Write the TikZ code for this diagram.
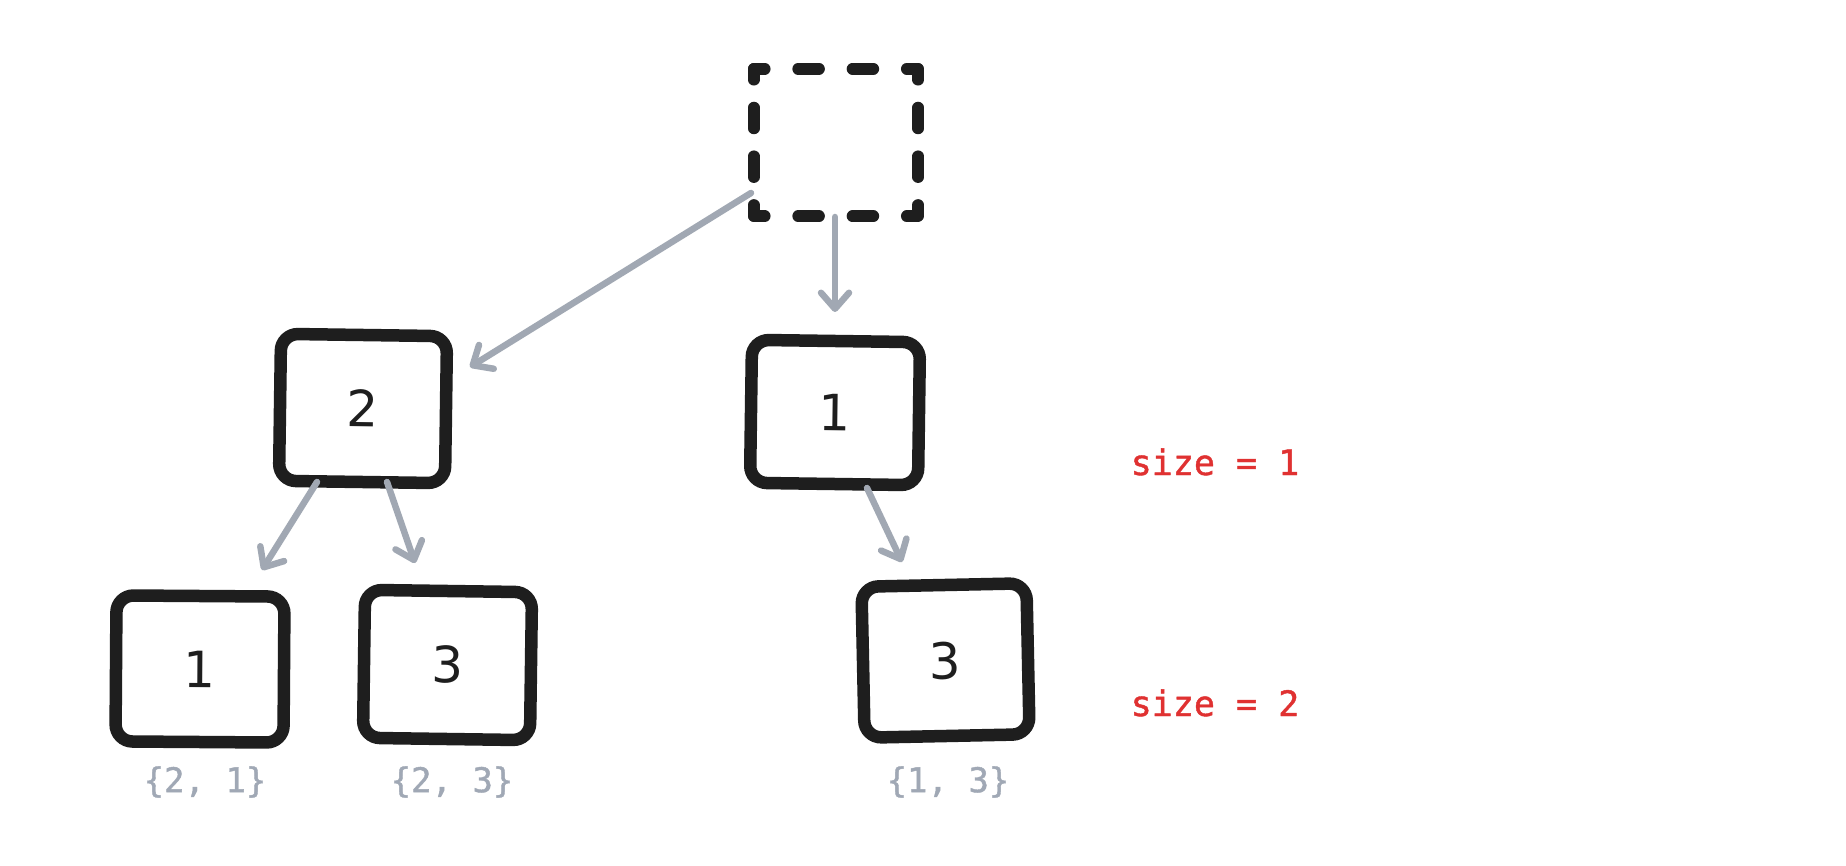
\documentclass[tikz,border=0pt]{standalone}
\usepackage{fontspec}
\usetikzlibrary{arrows.meta,calc}
\newfontfamily\numfont{DejaVu Sans}
\newfontfamily\codefont[FakeBold=1.2]{DejaVu Sans Mono}
\definecolor{inkblack}{HTML}{1E1E1E}
\definecolor{arrowgray}{HTML}{A1A8B3}
\definecolor{labelgray}{HTML}{A0A8B5}
\definecolor{sizered}{HTML}{E03131}
\tikzset{
  box/.style={draw=inkblack, line width=12.5pt, rounded corners=17pt,
    minimum width=166pt, minimum height=147pt, inner sep=0pt,
    font=\numfont\fontsize{50}{60}\selectfont, text=inkblack},
  ghost/.style={minimum width=164pt, minimum height=147pt, inner sep=0pt},
  dashside/.style={draw=inkblack, line width=11.5pt, line cap=round},
  arr/.style={draw=arrowgray, line width=6.5pt, line cap=round,
    -{Straight Barb[length=16pt, width=28pt, line width=6.5pt, round]}},
  setlabel/.style={font=\codefont\fontsize{34}{40}\selectfont, text=labelgray},
  sizelabel/.style={font=\codefont\fontsize{35}{42}\selectfont, text=sizered, anchor=base}
}
\begin{document}
\begin{tikzpicture}[x=1pt, y=-1pt]
\useasboundingbox[fill=white] (0,0) rectangle (1846,866);

% root (dashed, empty)
\node[ghost] (root) at (836,142.5) {};
\draw[dashside, dash pattern=on 11pt off 33.3pt on 21pt off 33.3pt on 21pt off 33.3pt on 11pt]
  (root.north west) -- (root.north east);
\draw[dashside, dash pattern=on 11pt off 33.3pt on 21pt off 33.3pt on 21pt off 33.3pt on 11pt]
  (root.south west) -- (root.south east);
\draw[dashside, dash pattern=on 11pt off 27.7pt on 21pt off 27.7pt on 21pt off 27.7pt on 11pt]
  (root.north west) -- (root.south west);
\draw[dashside, dash pattern=on 11pt off 27.7pt on 21pt off 27.7pt on 21pt off 27.7pt on 11pt]
  (root.north east) -- (root.south east);

% level 1
\node[box, rotate=-0.8] (n2) at (363,408.5) {2};
\node[box, rotate=-0.8, minimum width=168pt, minimum height=143pt] (n1) at (835,412.5) {1};

% level 2
\node[box, rotate=-0.4, minimum width=168pt, minimum height=146pt] (n21) at (200,669) {1};
\node[box, rotate=-0.8, minimum width=167pt, minimum height=148pt] (n23) at (447.5,665) {3};
\node[box, rotate=1.2, minimum width=165pt, minimum height=151pt] (n13) at (945.5,660.5) {3};

% set labels
\node[setlabel] (l21) at (205,782) {\{2, 1\}};
\node[setlabel] (l23) at (452,782) {\{2, 3\}};
\node[setlabel] (l13) at (948,782) {\{1, 3\}};

% size labels
\node[sizelabel] (s1) at (1215,475) {size = 1};
\node[sizelabel] (s2) at (1215,716) {size = 2};

% connectors
\draw[arr] ($(root.center)+(-85,50.5)$) -- ($(n2.center)+(107,-41.5)$);
\draw[arr] ($(root.center)+(-1,74.5)$) -- ($(n1.center)+(0,-100.5)$);
\draw[arr] ($(n2.center)+(-46,73.5)$) -- ($(n21.center)+(62,-99)$);
\draw[arr] ($(n2.center)+(24,73.5)$) -- ($(n23.center)+(-32.5,-102)$);
\draw[arr] ($(n1.center)+(32,75.5)$) -- ($(n13.center)+(-43.5,-98.5)$);
\end{tikzpicture}
\end{document}
